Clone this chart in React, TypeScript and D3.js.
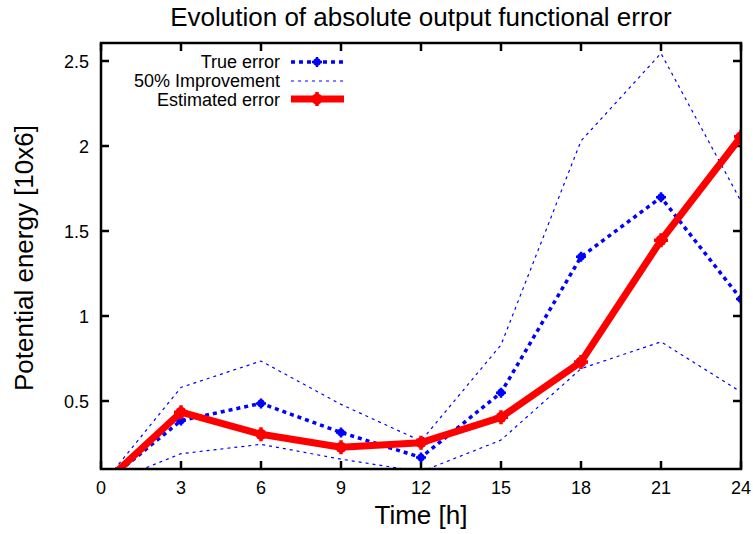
import React from "react";
import * as d3 from "d3";

const hours = [0, 3, 6, 9, 12, 15, 18, 21, 24];
const trueError = [0, 0.385, 0.486, 0.315, 0.168, 0.549, 1.348, 1.698, 1.1];
const improvementUpper = [0, 0.58, 0.735, 0.48, 0.265, 0.83, 2.03, 2.545, 1.675];
const improvementLower = [0, 0.19, 0.245, 0.158, 0.084, 0.27, 0.69, 0.848, 0.553];
const estimatedError = [0, 0.434, 0.304, 0.228, 0.255, 0.404, 0.73, 1.445, 2.055];
const xTicks = [0, 3, 6, 9, 12, 15, 18, 21, 24];
const yTicks = [0.5, 1, 1.5, 2, 2.5];
const yTickLabels = ["0.5", "1", "1.5", "2", "2.5"];

const W = 753;
const H = 534;
const L = 101;
const R = 741;
const T = 43;
const B = 469;
const FONT = "'Liberation Sans', Arial, Helvetica, sans-serif";

export default function App() {
  const x = d3.scaleLinear().domain([0, 24]).range([L, R]);
  const y = d3.scaleLinear().domain([0.1, 2.6059]).range([B, T]);
  const mk = (vals: number[]) =>
    d3
      .line<number>()
      .x((_, i) => x(hours[i]))
      .y((v) => y(v))(vals) as string;

  const inRange = (v: number, i: number) => v >= 0.1 && hours[i] >= 0;

  const blueMarker = (cx: number, cy: number, key: string) => (
    <g key={key}>
      <circle cx={cx} cy={cy} r={3.8} fill="#0000ff" />
      <path d={`M${cx - 5},${cy}H${cx + 5}M${cx},${cy - 5}V${cy + 5}`} stroke="#0000ff" strokeWidth={2.5} />
    </g>
  );
  const redMarker = (cx: number, cy: number, key: string) => (
    <g key={key}>
      <circle cx={cx} cy={cy} r={5.5} fill="#ff0000" />
      <path d={`M${cx - 7},${cy}H${cx + 7}M${cx},${cy - 7}V${cy + 7}`} stroke="#ff0000" strokeWidth={3.5} />
    </g>
  );

  return (
    <svg
      width={W}
      height={H}
      style={{ position: "absolute", left: 0, top: 0, background: "#fff" }}
      fontFamily={FONT}
    >
      <rect x={0} y={0} width={W} height={H} fill="#fff" />
      <defs>
        <clipPath id="plotclip">
          <rect x={L} y={T} width={R - L} height={B - T} />
        </clipPath>
      </defs>

      <text x={(L + R) / 2} y={26} textAnchor="middle" fontSize={26} fill="#000">
        Evolution of absolute output functional error
      </text>

      {/* ticks */}
      {xTicks.map((t) => (
        <g key={"xt" + t}>
          <line x1={x(t)} x2={x(t)} y1={B} y2={B - 8} stroke="#000" strokeWidth={2.5} />
          <line x1={x(t)} x2={x(t)} y1={T} y2={T + 8} stroke="#000" strokeWidth={2.5} />
          <text x={x(t)} y={494} textAnchor="middle" fontSize={18} fill="#000">
            {t}
          </text>
        </g>
      ))}
      {yTicks.map((t, i) => (
        <g key={"yt" + t}>
          <line x1={L} x2={L + 8} y1={y(t)} y2={y(t)} stroke="#000" strokeWidth={2.5} />
          <line x1={R} x2={R - 8} y1={y(t)} y2={y(t)} stroke="#000" strokeWidth={2.5} />
          <text x={89} y={y(t) + 6.5} textAnchor="end" fontSize={18} fill="#000">
            {yTickLabels[i]}
          </text>
        </g>
      ))}

      <text x={(L + R) / 2} y={524} textAnchor="middle" fontSize={26} fill="#000">
        Time [h]
      </text>
      <text
        transform={`translate(33,${(T + B) / 2 + 2}) rotate(-90)`}
        textAnchor="middle"
        fontSize={26}
        fill="#000"
      >
        Potential energy [10x6]
      </text>

      {/* data */}
      <g clipPath="url(#plotclip)">
        <path d={mk(trueError)} fill="none" stroke="#0000ff" strokeWidth={3.5} strokeDasharray="4,4" />
        {trueError.map((v, i) => (inRange(v, i) ? blueMarker(x(hours[i]), y(v), "tm" + i) : null))}
        <path d={mk(improvementUpper)} fill="none" stroke="#0000ff" strokeWidth={1.2} strokeDasharray="3,4" />
        <path d={mk(improvementLower)} fill="none" stroke="#0000ff" strokeWidth={1.2} strokeDasharray="3,4" />
        <path d={mk(estimatedError)} fill="none" stroke="#ff0000" strokeWidth={7} strokeLinejoin="round" />
        {estimatedError.map((v, i) => (inRange(v, i) ? redMarker(x(hours[i]), y(v), "em" + i) : null))}
      </g>

      {/* legend */}
      <g fontSize={18} fill="#000">
        <text x={280} y={68} textAnchor="end">True error</text>
        <line x1={291} x2={344} y1={62} y2={62} stroke="#0000ff" strokeWidth={3.5} strokeDasharray="4,4" />
        {blueMarker(317, 62, "lg1")}
        <text x={280} y={87} textAnchor="end">50% Improvement</text>
        <line x1={291} x2={344} y1={81} y2={81} stroke="#0000ff" strokeWidth={1.2} strokeDasharray="3,4" />
        <text x={280} y={105.5} textAnchor="end">Estimated error</text>
        <line x1={291} x2={344} y1={99} y2={99} stroke="#ff0000" strokeWidth={7} />
        {redMarker(317, 99, "lg3")}
      </g>

      {/* frame */}
      <rect x={L} y={T} width={R - L} height={B - T} fill="none" stroke="#000" strokeWidth={2.5} />
    </svg>
  );
}
